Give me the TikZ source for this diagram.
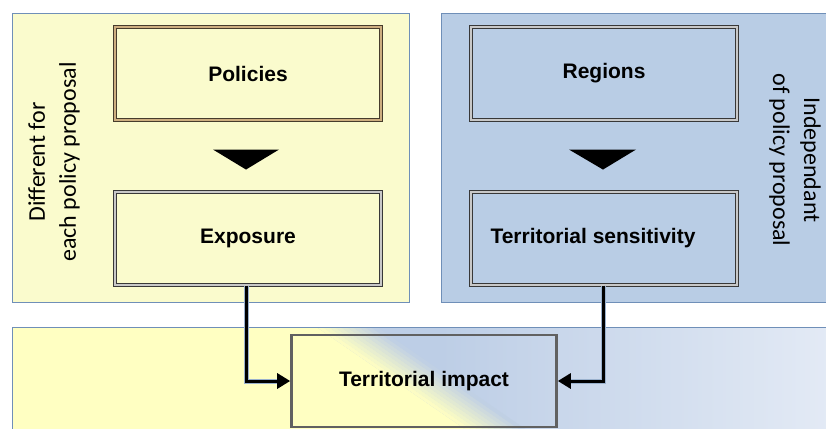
\documentclass[tikz,border=0pt]{standalone}
\usepackage{fontspec}
\setmainfont{Liberation Sans}
\newfontfamily\sidefont{Carlito}
\usetikzlibrary{arrows.meta,calc}
\definecolor{paneYel}{HTML}{FAFBCD}
\definecolor{paneBlu}{HTML}{B9CDE5}
\definecolor{paneEdge}{HTML}{6F8FB8}
\definecolor{botYel}{HTML}{FFFFC2}
\definecolor{botBlu}{HTML}{BDCEE6}
\definecolor{botLight}{HTML}{E3EAF5}
\definecolor{boxEdge}{HTML}{383838}
\definecolor{boxInner}{HTML}{C8C8C8}
\definecolor{polEdge}{HTML}{463C2C}
\definecolor{polInner}{HTML}{CDAE80}
\tikzset{
  panel/.style={draw=paneEdge, line width=1pt},
  stepbox/.style={draw=boxEdge, double=boxInner, double distance=1.3pt, line width=1.1pt,
    minimum width=266pt, minimum height=93pt, inner sep=0pt,
    font=\fontsize{21}{25}\selectfont\bfseries},
  impbox/.style={draw=black!62, line width=2.6pt, minimum width=265pt, minimum height=92pt,
    inner sep=0pt, font=\fontsize{21}{25}\selectfont\bfseries},
  sidetext/.style={align=center, inner sep=0pt, font=\sidefont\fontsize{24}{31}\selectfont},
  connhalo/.style={line width=5pt, paneEdge!70, shorten >=10pt},
  conn/.style={line width=3pt, black, -{Triangle[length=13pt,width=15pt]}},
  pointer/.style={fill=black}
}
\begin{document}
\begin{tikzpicture}[x=1pt,y=-1pt]
\useasboundingbox (0,0) rectangle (826,428);
% top panels
\filldraw[panel, fill=paneYel] (12,14) rectangle (409,302);
\filldraw[panel, fill=paneBlu] (441,14) rectangle (830,302);
% bottom panel with diagonal yellow/blue background
\begin{scope}
  \clip (12,327) rectangle (830,432);
  \fill[botBlu] (12,327) rectangle (440,432);
  \shade[left color=botBlu, right color=botLight] (440,327) rectangle (830,432);
  \begin{scope}[shift={(425,381)}, rotate=55.5]
    \fill[botYel] (-700,-700) rectangle (-17,700);
    \foreach \i in {0,...,9}{
      \pgfmathtruncatemacro\q{95-10*\i}
      \fill[botYel!\q!botBlu] (-17+3.4*\i,-700) rectangle (-13.3+3.4*\i,700);
    }
  \end{scope}
\end{scope}
\draw[panel] (12,432) |- (830,327);
% boxes
\node[stepbox, draw=polEdge, double=polInner] (pol) at (248,73.5) {Policies};
\node[stepbox] (expo) at (248,238.5) {Exposure};
\node[stepbox] (reg) at (604,73.5) {Regions};
\node[stepbox] (sens) at (604,238.5) {Territorial sensitivity\hspace*{22pt}};
\node[impbox] (imp) at (424,381) {Territorial impact};
% pointers
\fill[pointer] ($(pol.south)+(-35,29)$) -- ($(pol.south)+(31,29)$) -- ($(pol.south)+(-2,49)$) -- cycle;
\fill[pointer] ($(reg.south)+(-35,29)$) -- ($(reg.south)+(32,29)$) -- ($(reg.south)+(-1,49)$) -- cycle;
% connectors
\draw[connhalo] ([xshift=-1.5pt]expo.south) |- (imp.west);
\draw[connhalo] ([xshift=-1pt]sens.south) |- (imp.east);
\draw[conn] ([xshift=-1.5pt]expo.south) |- (imp.west);
\draw[conn] ([xshift=-1pt]sens.south) |- (imp.east);
% side texts
\node[sidetext, rotate=90] (lt) at (54,162) {Different for\\each policy proposal};
\node[sidetext, rotate=-90] (rt) at (795,160) {Independant\\of policy proposal};
\end{tikzpicture}
\end{document}
